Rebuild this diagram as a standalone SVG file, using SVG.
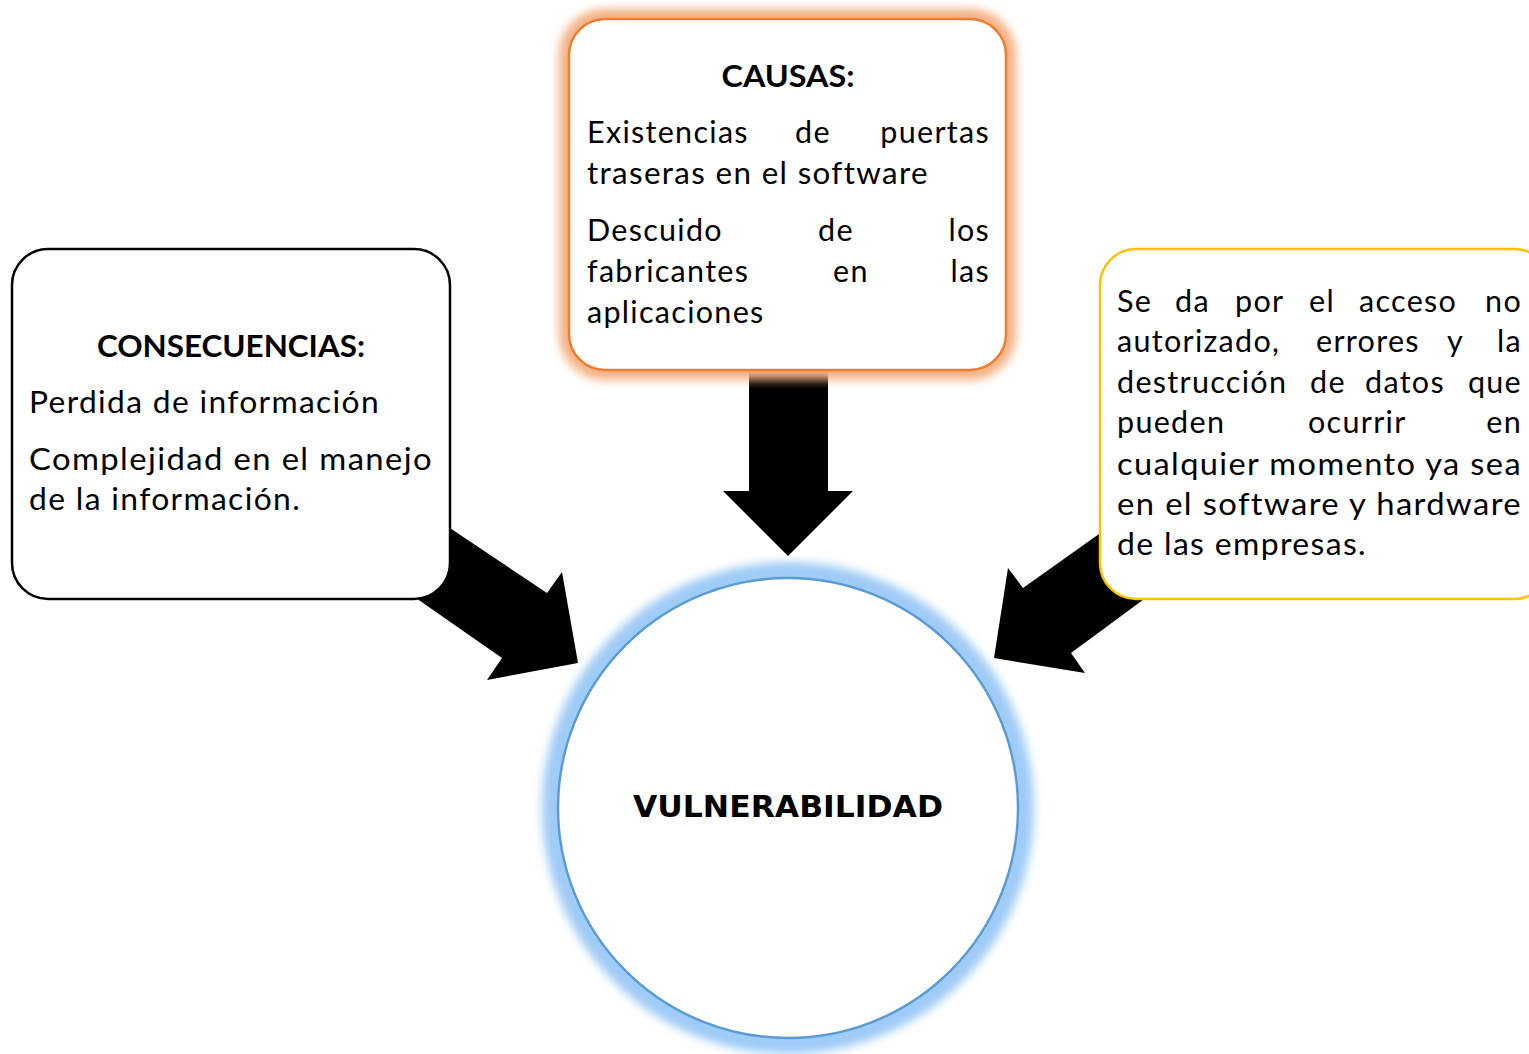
<svg xmlns="http://www.w3.org/2000/svg" width="1529" height="1054" viewBox="0 0 1529 1054">
<defs>
<filter id="glow" x="-20%" y="-20%" width="140%" height="140%"><feGaussianBlur stdDeviation="5"/></filter>
<style>
.t{font-family:Lato,"Noto Sans",sans-serif;font-size:30.5px;letter-spacing:1.3px;fill:#000}
.b{font-family:Lato,"Noto Sans",sans-serif;font-size:30.5px;font-weight:bold;fill:#000}
.v{font-family:"DejaVu Sans",Inter,sans-serif;font-size:31px;font-weight:bold;fill:#000}
.e{text-anchor:end}
.arrow{fill:#000}
</style>
</defs>
<rect width="1529" height="1054" fill="#fff"/>
<g id="connectors">
<polygon class="arrow" points="749,360 828,360 828,491 853,491 788,556 723,491 749,491"/>
<polygon class="arrow" points="420,508 547,593 562,572 578,663 487,680 502,658 380,573"/>
<polygon class="arrow" points="1130,512 1023,588 1008,568 994,658 1085,673 1071,653 1170,580"/>
</g>
<g id="consecuencias">
<rect x="12" y="249" width="438" height="350" rx="36" fill="#fff" stroke="#000" stroke-width="2.5"/>
<text class="b" x="231" y="357" text-anchor="middle" textLength="268" lengthAdjust="spacingAndGlyphs">CONSECUENCIAS:</text>
<text class="t" x="29" y="413" textLength="351" lengthAdjust="spacingAndGlyphs">Perdida de información</text>
<text class="t" x="29" y="470" textLength="404" lengthAdjust="spacingAndGlyphs">Complejidad en el manejo</text>
<text class="t" x="29" y="510" textLength="272" lengthAdjust="spacingAndGlyphs">de la información.</text>
</g>
<g id="causas">
<rect x="569" y="19" width="437" height="351" rx="36" fill="none" stroke="#F4B183" stroke-width="20" filter="url(#glow)"/>
<rect x="569" y="19" width="437" height="351" rx="36" fill="#fff" stroke="#ED7D31" stroke-width="2.5"/>
<text class="b" x="788" y="87" text-anchor="middle" textLength="133" lengthAdjust="spacingAndGlyphs">CAUSAS:</text>
<text class="t" x="587" y="143">Existencias</text><text class="t" x="795" y="143">de</text><text class="t e" x="990" y="143">puertas</text>
<text class="t" x="587" y="184" textLength="342" lengthAdjust="spacingAndGlyphs">traseras en el software</text>
<text class="t" x="587" y="241">Descuido</text><text class="t" x="818" y="241">de</text><text class="t e" x="990" y="241">los</text>
<text class="t" x="587" y="282">fabricantes</text><text class="t" x="833" y="282">en</text><text class="t e" x="990" y="282">las</text>
<text class="t" x="587" y="323">aplicaciones</text>
</g>
<g id="descripcion">
<rect x="1100" y="249" width="450" height="350" rx="36" fill="#fff" stroke="#FFC000" stroke-width="2.5"/>
<text class="t" x="1117" y="312">Se</text><text class="t" x="1175" y="312">da</text><text class="t" x="1235" y="312">por</text><text class="t" x="1309" y="312">el</text><text class="t" x="1359" y="312">acceso</text><text class="t e" x="1522" y="312">no</text>
<text class="t" x="1117" y="352">autorizado,</text><text class="t" x="1316" y="352">errores</text><text class="t" x="1447" y="352">y</text><text class="t e" x="1522" y="352">la</text>
<text class="t" x="1117" y="393">destrucción</text><text class="t" x="1310" y="393">de</text><text class="t" x="1365" y="393">datos</text><text class="t e" x="1522" y="393">que</text>
<text class="t" x="1117" y="433">pueden</text><text class="t" x="1308" y="433">ocurrir</text><text class="t e" x="1522" y="433">en</text>
<text class="t" x="1117" y="475" textLength="405" lengthAdjust="spacingAndGlyphs">cualquier momento ya sea</text>
<text class="t" x="1117" y="515" textLength="405" lengthAdjust="spacingAndGlyphs">en el software y hardware</text>
<text class="t" x="1117" y="555" textLength="250" lengthAdjust="spacingAndGlyphs">de las empresas.</text>
</g>
<g id="vulnerabilidad">
<circle cx="788" cy="808" r="234" fill="none" stroke="#9ECBF7" stroke-width="24" filter="url(#glow)"/>
<circle cx="788" cy="808" r="230" fill="#fff" stroke="#5B9BD5" stroke-width="2.5"/>
<text class="v" x="788" y="817" text-anchor="middle" textLength="310" lengthAdjust="spacingAndGlyphs">VULNERABILIDAD</text>
</g>
</svg>
